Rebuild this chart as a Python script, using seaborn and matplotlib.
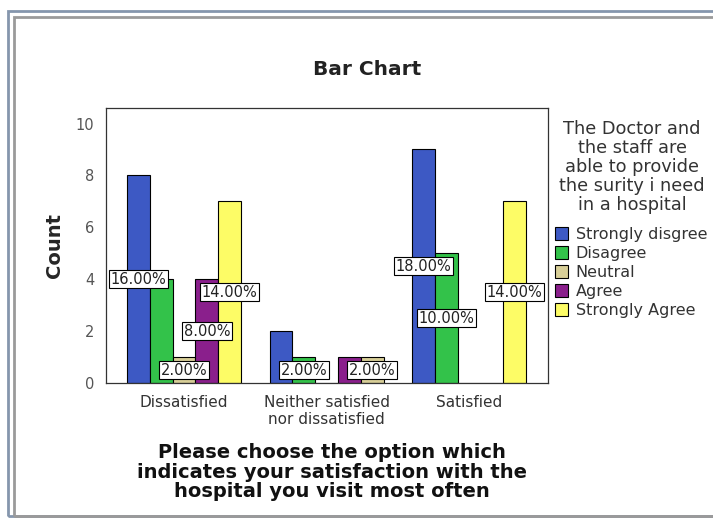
import matplotlib
matplotlib.use("Agg")
import matplotlib.pyplot as plt
from matplotlib.patches import Rectangle
import pandas as pd
import seaborn as sns

# satisfaction groups (x axis)
groups = ["Dissatisfied", "Neither satisfied\nnor dissatisfied", "Satisfied"]
# agreement levels (legend)
levels = ["Strongly disgree", "Disagree", "Neutral", "Agree", "Strongly Agree"]
level_colors = ["#3d59c4", "#33c24a", "#d8cf98", "#8a1f8c", "#fdfc66"]
legend_title = "The Doctor and\nthe staff are\nable to provide\nthe surity i need\nin a hospital"

# counts per group, one list per agreement level
strongly_disagree = [8, 2, 9]
disagree = [4, 1, 5]
neutral = [1, 0, 0]
agree = [4, 1, 0]
strongly_agree = [7, 1, 7]

# which bars carry a percent label in the original (others were hidden)
label_shown = {
    "Strongly disgree": [True, False, True],
    "Disagree": [False, True, True],
    "Neutral": [True, False, False],
    "Agree": [True, False, False],
    "Strongly Agree": [True, True, True],
}

counts = [strongly_disagree, disagree, neutral, agree, strongly_agree]
rows = []
for lev, vals in zip(levels, counts):
    for g, v in zip(groups, vals):
        rows.append({"group": g, "level": lev, "count": v})
df = pd.DataFrame(rows)
total = df["count"].sum()

sns.set_style("white")
plt.rcParams["font.family"] = ["DejaVu Sans"]

fig = plt.figure(figsize=(7.13, 5.19), dpi=100)
ax = fig.add_axes([0.1487, 0.262, 0.62, 0.53])

sns.barplot(data=df, x="group", y="count", hue="level", hue_order=levels,
            order=groups, palette=level_colors, saturation=1, width=0.8,
            edgecolor="black", linewidth=0.8, ax=ax)

# percent labels at half bar height
for lev, cont in zip(levels, ax.containers):
    for i, bar in enumerate(cont):
        if not label_shown[lev][i]:
            continue
        h = bar.get_height()
        pct = h / total * 100
        ax.text(bar.get_x() + bar.get_width() / 2, h / 2, f"{pct:.2f}%",
                ha="center", va="center", fontsize=10.5, color="#222222",
                bbox=dict(boxstyle="square,pad=0.12", fc="white", ec="black", lw=0.8),
                zorder=5)

# in the original chart the last "Neither" bar is drawn in the neutral tint
ax.containers[4][1].set_facecolor(level_colors[2])

ax.set_ylim(0, 10.6)
ax.set_xlim(-0.547, 2.554)
ax.set_yticks([0, 2, 4, 6, 8, 10])
ax.tick_params(axis="both", direction="out", length=5, width=0.8,
               colors="#555555", labelsize=10.5, labelcolor="#555555")
ax.tick_params(axis="x", labelcolor="#333333", labelsize=11)
for s in ax.spines.values():
    s.set_color("#333333")
    s.set_linewidth(0.9)
ax.set_xlabel("")
ax.set_ylabel("Count", fontsize=14, fontweight="bold", labelpad=8)

fig.text(0.515, 0.867, "Bar Chart", ha="center", va="center",
         fontsize=14.5, fontweight="bold", color="#222222")
fig.text(0.466, 0.09,
         "Please choose the option which\nindicates your satisfaction with the\nhospital you visit most often",
         ha="center", va="center", fontsize=14, fontweight="bold",
         color="#111111", linespacing=1.02)

# legend title as its own text block, entries below it
fig.text(632 / 713, (519 - 167) / 519, legend_title, ha="center", va="center",
         fontsize=12.8, color="#333333", linespacing=1.07)
leg = ax.legend(loc="upper left", bbox_to_anchor=(555 / 713, (519 - 227) / 519),
                bbox_transform=fig.transFigure, frameon=False,
                fontsize=11.5, borderpad=0,
                handlelength=0.8, handleheight=0.8, handletextpad=0.5,
                labelspacing=0.25, borderaxespad=0)
for t in leg.get_texts():
    t.set_color("#333333")
for p in leg.get_patches():
    p.set_edgecolor("black")

# window frame around the chart
fig.add_artist(Rectangle((8 / 713, 3 / 519), 1.0, 1 - 14 / 519,
                         transform=fig.transFigure, fill=False,
                         ec="#8596ad", lw=2))
fig.add_artist(Rectangle((14 / 713, 3 / 519), 1.0, 1 - 20 / 519,
                         transform=fig.transFigure, fill=False,
                         ec="#9a9a9a", lw=2))

fig.savefig("out.png", dpi=100)
